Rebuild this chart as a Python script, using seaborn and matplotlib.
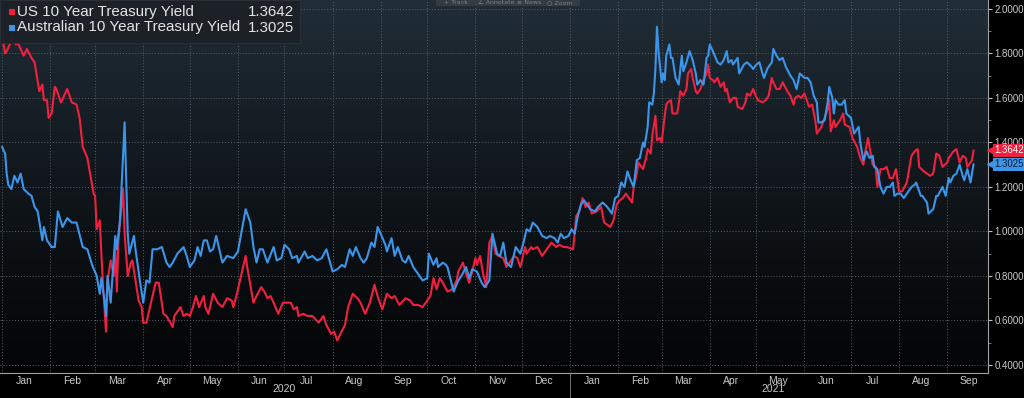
import numpy as np
import pandas as pd
import matplotlib
matplotlib.use("Agg")
import matplotlib.pyplot as plt
import matplotlib.dates as mdates
import matplotlib.transforms as mtransforms
from matplotlib.colors import LinearSegmentedColormap
from matplotlib.patches import Rectangle
from matplotlib.ticker import FormatStrFormatter, MultipleLocator
import seaborn as sns

# day offsets from 2020-01-01 and yields
start = pd.Timestamp("2020-01-01")

us_day = [
    0, 2, 3, 7, 9, 10, 14, 16, 19, 21,
    24, 26, 27, 29, 30, 32, 34, 35, 38, 42,
    45, 48, 50, 52, 55, 59, 60, 61, 63, 64,
    65, 67, 68, 70, 72, 73, 74, 75, 78, 79,
    81, 83, 84, 86, 88, 90, 91, 93, 97, 99,
    101, 104, 106, 110, 111, 115, 117, 119, 121, 123,
    125, 127, 130, 131, 133, 136, 139, 142, 145, 148,
    149, 151, 155, 157, 158, 162, 164, 167, 169, 171,
    173, 175, 178, 181, 186, 188, 190, 191, 194, 197,
    200, 204, 207, 209, 212, 214, 216, 218, 221, 223,
    226, 229, 231, 234, 237, 240, 242, 245, 248, 251,
    253, 256, 260, 263, 265, 268, 271, 274, 276, 278,
    280, 282, 284, 287, 290, 293, 294, 297, 299, 301,
    303, 305, 306, 308, 310, 312, 314, 316, 318, 320,
    323, 325, 327, 330, 332, 334, 337, 338, 341, 342,
    345, 348, 351, 354, 357, 359, 362, 364, 368, 370,
    372, 374, 376, 378, 380, 383, 386, 388, 392, 394,
    396, 398, 400, 402, 404, 406, 407, 409, 410, 413,
    415, 416, 418, 419, 421, 422, 424, 425, 427, 428,
    429, 431, 432, 435, 436, 437, 439, 441, 442, 444,
    445, 447, 448, 450, 452, 454, 455, 456, 458, 459,
    461, 463, 465, 466, 467, 469, 471, 473, 474, 477,
    479, 480, 482, 484, 485, 487, 490, 492, 494, 496,
    497, 499, 501, 503, 506, 508, 510, 511, 513, 515,
    517, 518, 520, 522, 524, 525, 528, 529, 532, 533,
    534, 536, 537, 540, 542, 543, 546, 548, 551, 553,
    555, 556, 558, 561, 563, 564, 566, 568, 570, 572,
    574, 576, 578, 580, 583, 586, 588, 590, 591, 594,
    596, 598, 600, 602, 604, 606, 609, 610, 613, 615,
    617, 619, 621, 622, 625, 626,
]
us_yield = [
    1.88, 1.80, 1.81, 1.87, 1.84, 1.85, 1.79, 1.82, 1.78, 1.76,
    1.63, 1.66, 1.59, 1.59, 1.51, 1.53, 1.65, 1.64, 1.58, 1.64,
    1.58, 1.57, 1.51, 1.38, 1.33, 1.17, 1.16, 1.01, 1.05, 0.90,
    0.77, 0.55, 0.78, 0.87, 0.80, 0.92, 0.73, 0.96, 1.19, 0.99,
    0.80, 0.86, 0.87, 0.78, 0.69, 0.66, 0.59, 0.59, 0.71, 0.77,
    0.77, 0.63, 0.62, 0.57, 0.62, 0.66, 0.62, 0.63, 0.62, 0.66,
    0.71, 0.66, 0.71, 0.66, 0.63, 0.72, 0.68, 0.66, 0.70, 0.69,
    0.66, 0.71, 0.83, 0.89, 0.84, 0.68, 0.71, 0.75, 0.73, 0.70,
    0.71, 0.68, 0.63, 0.68, 0.68, 0.65, 0.66, 0.62, 0.63, 0.62,
    0.62, 0.59, 0.62, 0.58, 0.54, 0.55, 0.51, 0.54, 0.58, 0.66,
    0.72, 0.70, 0.68, 0.63, 0.68, 0.76, 0.71, 0.65, 0.72, 0.70,
    0.71, 0.67, 0.70, 0.69, 0.67, 0.67, 0.66, 0.69, 0.71, 0.79,
    0.74, 0.79, 0.77, 0.73, 0.74, 0.78, 0.82, 0.86, 0.81, 0.77,
    0.82, 0.88, 0.85, 0.89, 0.81, 0.75, 0.95, 0.98, 0.90, 0.89,
    0.88, 0.84, 0.86, 0.89, 0.88, 0.84, 0.93, 0.90, 0.93, 0.92,
    0.93, 0.89, 0.92, 0.95, 0.93, 0.94, 0.93, 0.93, 0.92, 1.07,
    1.09, 1.15, 1.11, 1.13, 1.08, 1.09, 1.11, 1.04, 1.02, 1.05,
    1.12, 1.14, 1.15, 1.17, 1.15, 1.13, 1.20, 1.26, 1.31, 1.28,
    1.33, 1.37, 1.35, 1.43, 1.52, 1.41, 1.42, 1.40, 1.52, 1.57,
    1.58, 1.59, 1.53, 1.53, 1.57, 1.63, 1.61, 1.64, 1.71, 1.73,
    1.69, 1.63, 1.62, 1.64, 1.68, 1.71, 1.75, 1.69, 1.68, 1.67,
    1.69, 1.65, 1.67, 1.63, 1.64, 1.58, 1.60, 1.60, 1.56, 1.55,
    1.58, 1.62, 1.61, 1.64, 1.62, 1.59, 1.58, 1.59, 1.61, 1.69,
    1.67, 1.64, 1.64, 1.67, 1.63, 1.61, 1.57, 1.60, 1.61, 1.60,
    1.62, 1.60, 1.56, 1.57, 1.50, 1.44, 1.47, 1.49, 1.55, 1.59,
    1.45, 1.50, 1.47, 1.50, 1.53, 1.48, 1.47, 1.42, 1.38, 1.33,
    1.30, 1.35, 1.42, 1.30, 1.29, 1.20, 1.28, 1.28, 1.29, 1.24,
    1.24, 1.28, 1.18, 1.18, 1.22, 1.34, 1.36, 1.37, 1.29, 1.27,
    1.26, 1.25, 1.26, 1.35, 1.34, 1.29, 1.31, 1.33, 1.36, 1.37,
    1.31, 1.34, 1.33, 1.29, 1.32, 1.3642,
]

au_day = [
    0, 2, 3, 4, 6, 8, 10, 12, 14, 17,
    19, 21, 23, 26, 27, 29, 32, 34, 36, 39,
    42, 45, 48, 52, 55, 58, 61, 63, 64, 66,
    67, 68, 70, 73, 74, 76, 79, 81, 82, 85,
    86, 89, 91, 93, 95, 97, 100, 103, 106, 108,
    110, 113, 117, 119, 121, 124, 126, 128, 130, 132,
    134, 136, 138, 140, 142, 145, 149, 152, 157, 160,
    162, 164, 166, 168, 171, 175, 177, 180, 182, 185,
    187, 190, 191, 195, 197, 200, 203, 206, 209, 211,
    213, 216, 219, 221, 224, 226, 228, 231, 233, 235,
    238, 240, 242, 244, 247, 248, 251, 253, 255, 258,
    260, 262, 265, 268, 271, 274, 275, 278, 280, 281,
    284, 286, 287, 291, 294, 296, 299, 301, 303, 306,
    309, 311, 314, 316, 319, 321, 323, 325, 328, 331,
    334, 336, 338, 340, 342, 345, 348, 351, 353, 356,
    358, 360, 362, 365, 367, 369, 371, 373, 375, 377,
    379, 382, 384, 387, 390, 393, 395, 397, 399, 401,
    403, 405, 407, 409, 411, 413, 414, 416, 417, 419,
    420, 421, 422, 423, 425, 426, 427, 428, 430, 431,
    432, 434, 436, 438, 439, 441, 443, 445, 447, 448,
    450, 452, 454, 455, 456, 458, 461, 463, 465, 467,
    468, 470, 471, 474, 475, 478, 480, 483, 484, 486,
    488, 490, 491, 493, 496, 497, 499, 501, 503, 505,
    508, 510, 512, 514, 517, 519, 521, 523, 525, 526,
    528, 530, 532, 533, 535, 536, 537, 539, 541, 543,
    544, 547, 549, 552, 553, 555, 557, 559, 561, 562,
    564, 566, 568, 570, 572, 574, 575, 577, 579, 581,
    583, 586, 588, 589, 590, 592, 593, 596, 597, 600,
    602, 603, 606, 608, 610, 611, 613, 615, 617, 619,
    620, 622, 624, 626,
]
au_yield = [
    1.38, 1.35, 1.26, 1.21, 1.19, 1.25, 1.22, 1.26, 1.19, 1.17,
    1.16, 1.11, 1.09, 0.96, 1.02, 0.96, 0.93, 0.93, 1.09, 1.02,
    1.06, 1.04, 1.04, 0.93, 0.92, 0.85, 0.80, 0.72, 0.79, 0.69,
    0.62, 0.80, 0.68, 0.98, 0.92, 1.05, 1.49, 0.99, 0.90, 0.98,
    0.92, 0.77, 0.68, 0.78, 0.77, 0.92, 0.92, 0.93, 0.86, 0.84,
    0.86, 0.90, 0.93, 0.89, 0.84, 0.87, 0.93, 0.89, 0.96, 0.96,
    0.91, 0.92, 0.98, 0.92, 0.86, 0.89, 0.88, 0.91, 1.10, 1.04,
    0.93, 0.86, 0.92, 0.92, 0.86, 0.93, 0.87, 0.88, 0.94, 0.92,
    0.88, 0.89, 0.86, 0.91, 0.88, 0.89, 0.87, 0.88, 0.92, 0.87,
    0.82, 0.83, 0.85, 0.84, 0.92, 0.89, 0.93, 0.88, 0.86, 0.88,
    0.95, 0.93, 1.02, 0.99, 0.94, 0.91, 0.97, 0.89, 0.93, 0.87,
    0.86, 0.89, 0.84, 0.81, 0.78, 0.79, 0.90, 0.85, 0.88, 0.84,
    0.86, 0.85, 0.84, 0.73, 0.78, 0.80, 0.84, 0.79, 0.83, 0.82,
    0.77, 0.75, 0.78, 0.99, 0.90, 0.89, 0.95, 0.86, 0.84, 0.93,
    0.90, 0.95, 1.01, 1.00, 1.04, 1.02, 0.98, 0.97, 0.98, 0.97,
    0.95, 0.99, 0.97, 0.98, 1.01, 0.99, 1.07, 1.12, 1.14, 1.12,
    1.10, 1.09, 1.11, 1.13, 1.11, 1.08, 1.15, 1.16, 1.22, 1.20,
    1.27, 1.23, 1.20, 1.32, 1.33, 1.40, 1.38, 1.47, 1.58, 1.57,
    1.62, 1.73, 1.92, 1.81, 1.67, 1.71, 1.68, 1.79, 1.84, 1.78,
    1.78, 1.69, 1.66, 1.79, 1.72, 1.76, 1.81, 1.77, 1.71, 1.66,
    1.68, 1.66, 1.78, 1.79, 1.84, 1.81, 1.76, 1.75, 1.77, 1.81,
    1.76, 1.77, 1.75, 1.78, 1.71, 1.75, 1.76, 1.74, 1.73, 1.75,
    1.76, 1.71, 1.69, 1.73, 1.76, 1.82, 1.79, 1.77, 1.78, 1.74,
    1.70, 1.68, 1.64, 1.71, 1.69, 1.69, 1.67, 1.61, 1.58, 1.49,
    1.49, 1.50, 1.58, 1.65, 1.60, 1.53, 1.59, 1.57, 1.57, 1.59,
    1.53, 1.51, 1.44, 1.47, 1.40, 1.32, 1.36, 1.33, 1.34, 1.29,
    1.28, 1.20, 1.17, 1.20, 1.20, 1.22, 1.16, 1.17, 1.17, 1.15,
    1.17, 1.20, 1.21, 1.22, 1.20, 1.16, 1.16, 1.13, 1.08, 1.10,
    1.16, 1.16, 1.20, 1.16, 1.24, 1.22, 1.25, 1.26, 1.30, 1.25,
    1.23, 1.28, 1.22, 1.3025,
]

series_names = ["US 10 Year Treasury Yield", "Australian 10 Year Treasury Yield"]
last_values = [1.3642, 1.3025]
year_labels = ["2020", "2021"]
y_ticks = [0.4, 0.6, 0.8, 1.0, 1.2, 1.4, 1.6, 1.8, 2.0]
toolbar_items = ["+ Track", "\u2220 Annotate", "\u2261 News", "\u25cb Zoom"]

RED = "#f2203f"
BLUE = "#3b95ea"
GRID = "#596069"
TXT = "#c9c9c9"

df = pd.concat([
    pd.DataFrame({"date": start + pd.to_timedelta(us_day, unit="D"),
                  "yield": us_yield, "series": series_names[0]}),
    pd.DataFrame({"date": start + pd.to_timedelta(au_day, unit="D"),
                  "yield": au_yield, "series": series_names[1]}),
])

sns.set_style("dark")
plt.rcParams["font.family"] = ["Liberation Sans", "DejaVu Sans"]

W, H = 1024, 398
fig = plt.figure(figsize=(W / 100, H / 100), dpi=100, facecolor="black")
pos = [0, 1 - 373 / H, 988 / W, 373 / H]

# gradient background behind the plot area
bg = fig.add_axes(pos, zorder=0)
bg_cmap = LinearSegmentedColormap.from_list("bg", ["#212d37", "#10161b", "#030405"])
bg.imshow(np.linspace(0, 1, 256).reshape(-1, 1), cmap=bg_cmap, aspect="auto",
          extent=[0, 1, 0, 1])
bg.axis("off")

ax = fig.add_axes(pos, zorder=1)
ax.set_facecolor("none")
sns.lineplot(data=df, x="date", y="yield", hue="series",
             palette={series_names[0]: RED, series_names[1]: BLUE},
             estimator=None, sort=False, legend=False, linewidth=1.5, ax=ax)

ax.set_xlim(start - pd.Timedelta(days=1.3), start + pd.Timedelta(days=635.3))
ax.set_ylim(0.364, 2.04)
ax.set_xlabel("")
ax.set_ylabel("")

# x axis: month boundaries as grid/ticks, month names centred
ax.xaxis.set_major_locator(mdates.MonthLocator())
ax.xaxis.set_major_formatter(plt.NullFormatter())
ax.xaxis.set_minor_locator(mdates.MonthLocator(bymonthday=15))
ax.xaxis.set_minor_formatter(mdates.DateFormatter("%b"))
ax.tick_params(axis="x", which="major", length=3, color="#8a8a8a", direction="out")
ax.tick_params(axis="x", which="minor", length=0, pad=2, labelsize=7.5, labelcolor=TXT)

# y axis on the right
ax.yaxis.tick_right()
ax.set_yticks(y_ticks)
ax.yaxis.set_minor_locator(MultipleLocator(0.1))
ax.yaxis.set_major_formatter(FormatStrFormatter("%.4f"))
ax.tick_params(axis="y", which="major", length=3, color="#bdbdbd", pad=1.5,
               labelsize=7, labelcolor=TXT, direction="out")
ax.tick_params(axis="y", which="minor", length=2, color="#8a8a8a", direction="out")

ax.grid(True, which="major", color=GRID, linestyle=(0, (1, 2)), linewidth=0.7)
for side in ["left", "top"]:
    ax.spines[side].set_visible(False)
for side in ["right", "bottom"]:
    ax.spines[side].set_visible(True)
    ax.spines[side].set_color("#a0a0a0")
    ax.spines[side].set_linewidth(0.8)

# year labels and separator
xblend = mtransforms.blended_transform_factory(ax.transData, ax.transAxes)
year_start = [start, pd.Timestamp("2021-01-01")]
year_mid = [pd.Timestamp("2020-07-01"), pd.Timestamp("2021-05-12")]
for lab, mid in zip(year_labels, year_mid):
    ax.text(mid, -16 / 373, lab, transform=xblend, ha="center", va="center",
            fontsize=7.5, color=TXT)
ax.plot([year_start[1], year_start[1]], [0, -25 / 373], transform=xblend,
        color="#6a6a6a", linewidth=0.8, clip_on=False)

# last value tags on the right axis
yblend = mtransforms.blended_transform_factory(ax.transAxes, ax.transData)
for val, col, tcol in zip(last_values, [RED, BLUE], ["#ffffff", "#0b1a2e"]):
    ax.plot([1.0035], [val], marker="<", markersize=5.5, color=col,
            transform=yblend, clip_on=False, zorder=5)
    ax.text(1.0065, val, f"{val:.4f}", transform=yblend, ha="left", va="center",
            fontsize=7, color=tcol, clip_on=False, zorder=6,
            bbox=dict(boxstyle="square,pad=0.15", fc=col, ec="none"))

# legend box top-left
fig.patches.append(Rectangle((0, 1 - 43 / H), 300 / W, 43 / H, transform=fig.transFigure,
                             facecolor="#1b2127", edgecolor="#2c333a", alpha=0.95,
                             linewidth=0.6, zorder=10))
for i, (name, val, col) in enumerate(zip(series_names, last_values, [RED, BLUE])):
    yc = 1 - (12 + 15.5 * i) / H
    fig.patches.append(Rectangle((9 / W, yc - 3 / H), 6 / W, 6 / H,
                                 transform=fig.transFigure, facecolor=col,
                                 edgecolor="none", zorder=11))
    fig.text(17 / W, yc, name, ha="left", va="center", fontsize=10.9,
             color="#e4e4e4", zorder=12)
    fig.text(294 / W, yc, f"{val:.4f}", ha="right", va="center", fontsize=10.9,
             color="#e4e4e4", zorder=12)

# toolbar strip at the top
fig.patches.append(Rectangle((436 / W, 1 - 6 / H), 144 / W, 6 / H,
                             transform=fig.transFigure, facecolor="#363b41",
                             edgecolor="none", zorder=10))
for item, xp in zip(toolbar_items, [444, 478, 517, 547]):
    fig.text(xp / W, 1 - 3 / H, item, ha="left", va="center", fontsize=4.5,
             color="#7d838a", family=["DejaVu Sans"], zorder=11)

fig.savefig("out.png", dpi=100, facecolor="black")
